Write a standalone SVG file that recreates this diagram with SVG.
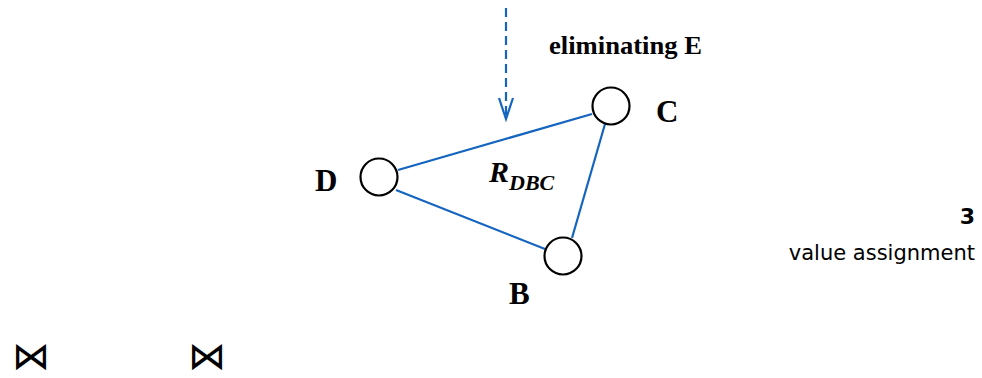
<svg xmlns="http://www.w3.org/2000/svg" width="982" height="378" viewBox="0 0 982 378">
<style>
.node{fill:#fff;stroke:#000;stroke-width:2.2}
.edge{stroke:#1565c0;stroke-width:2.2;fill:none}
.lbl{font-family:"Liberation Serif",serif;font-weight:bold;fill:#000}
.sans{font-family:"DejaVu Sans",sans-serif;fill:#000}
</style>
<rect width="982" height="378" fill="#fff"/>
<g id="connectors">
<line class="edge" x1="398" y1="170" x2="592" y2="114"/>
<line class="edge" x1="396" y1="190" x2="545" y2="249"/>
<line class="edge" x1="605" y1="124" x2="572" y2="238"/>
<line class="edge" x1="506" y1="8" x2="506" y2="117" stroke-dasharray="9,5"/>
<polyline class="edge" points="499,98 506,119 513,98" stroke-width="2.6"/>
</g>
<g id="node-C"><circle class="node" cx="611" cy="106" r="18.5"/><text class="lbl" x="656" y="122" font-size="31">C</text></g>
<g id="node-D"><circle class="node" cx="379" cy="177" r="18.5"/><text class="lbl" x="315" y="191" font-size="31">D</text></g>
<g id="node-B"><circle class="node" cx="563" cy="256" r="18.5"/><text class="lbl" x="509" y="304" font-size="31">B</text></g>
<text class="lbl" x="549" y="54" font-size="25" textLength="153" lengthAdjust="spacingAndGlyphs">eliminating E</text>
<text class="lbl" x="489" y="182" font-size="30" font-style="italic">R<tspan font-size="22" dy="8">DBC</tspan></text>
<text class="sans" x="975" y="224" font-size="22" font-weight="bold" text-anchor="end">3</text>
<text class="sans" x="975" y="260" font-size="21" text-anchor="end">value assignment</text>
<text class="sans" x="12" y="369" font-size="38">⋈</text>
<text class="sans" x="188" y="369" font-size="38">⋈</text>
</svg>
